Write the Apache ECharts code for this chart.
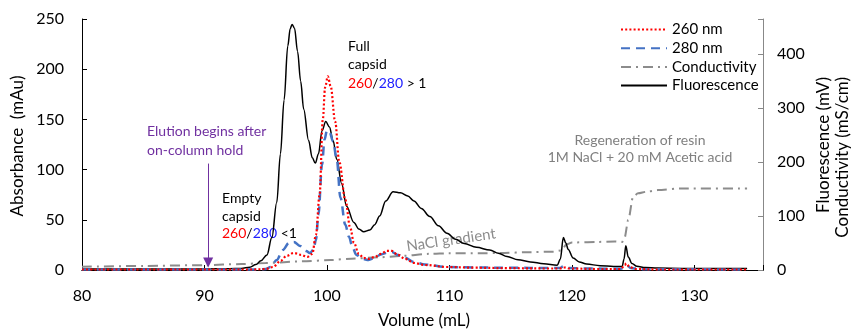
<!DOCTYPE html>
<html>
<head>
<meta charset="utf-8">
<script src="https://cdn.jsdelivr.net/npm/echarts@6/dist/echarts.min.js"></script>
<style>
  html, body { margin: 0; padding: 0; background: #fff; }
  #chart { width: 856px; height: 333px; }
</style>
</head>
<body>
<div id="chart"></div>
<script>
// volumes (mL) and values
var fluorVol = [80, 85, 90, 92, 93, 93.7, 94.2, 94.6, 95.1, 95.5, 95.9, 96.2, 96.5, 96.8, 97.0, 97.15, 97.35, 97.6, 97.85, 98.1, 98.5, 98.8, 99.05, 99.3, 99.6, 99.9, 100.2, 100.5, 100.8, 101.2, 101.6, 102.2, 102.6, 103.0, 103.5, 103.9, 104.3, 104.8, 105.4, 106, 106.6, 107.1, 107.7, 108.4, 109.1, 109.8, 110.5, 111.2, 112.2, 113.3, 114, 114.7, 115.6, 116.6, 117.7, 118.8, 119.05, 119.3, 119.5, 119.7, 120.1, 120.6, 121.2, 122.3, 123.4, 124.1, 124.25, 124.4, 124.6, 124.9, 125.3, 126, 127, 129, 134.3];
var fluorMv  = [2, 2, 2, 2.5, 3, 5, 10, 17, 28, 60, 125, 215, 315, 415, 447, 455, 448, 405, 350, 298, 240, 208, 198, 215, 258, 275, 265, 240, 205, 160, 118, 88, 76, 71, 74, 84, 100, 128, 145, 143, 137, 128, 114, 99, 82, 68, 57, 49, 42, 37, 31, 25, 19, 15, 11.5, 9, 20, 60, 50, 38, 22, 15, 11, 8, 6.5, 6.5, 20, 45, 24, 12, 7, 4.5, 3.5, 3, 3];

var condVol = [80, 85, 90, 93, 95, 98, 100.3, 102, 104.3, 106, 108.4, 110, 112.5, 114.2, 116.6, 118.5, 119.1, 119.6, 120, 122, 123.5, 124.1, 124.3, 124.6, 125.0, 125.4, 126.1, 127, 128.9, 134.3];
var condMs  = [6, 7.5, 9, 11, 13, 16, 18.5, 21, 23.5, 26, 30, 31, 31, 31.5, 33, 34, 36, 48, 51, 52, 53, 52, 60, 93, 136, 142, 145, 148, 151, 151];

var a260Vol = [80, 94, 95, 95.6, 96.2, 96.7, 97.3, 97.9, 98.4, 98.8, 99.1, 99.4, 99.66, 99.85, 100.07, 100.3, 100.67, 101.0, 101.5, 101.9, 102.2, 102.6, 103.0, 103.4, 103.9, 104.4, 104.9, 105.3, 105.8, 106.4, 107.1, 108, 109.8, 112, 115, 118, 119, 119.4, 119.8, 122, 124, 124.3, 124.45, 124.7, 125.2, 127, 134.3];
var a260Mau = [0.5, 0.5, 1, 3, 9, 14, 17, 15, 13, 16, 35, 75, 150, 182, 193, 183, 148, 108, 70, 42, 27, 16, 12, 11, 13, 16, 19, 19, 15, 11, 7, 5, 3, 2.3, 1.8, 1.5, 1.5, 2.5, 1.5, 1, 1, 5, 6.5, 3, 1, 0.5, 0.5];

var a280Vol = [80, 94.5, 95.0, 95.4, 95.9, 96.4, 96.9, 97.3, 97.8, 98.3, 98.6, 98.9, 99.1, 99.3, 99.6, 99.8, 100.0, 100.2, 100.5, 100.8, 101.1, 101.5, 101.8, 102.1, 102.4, 102.9, 103.4, 103.9, 104.4, 105.0, 105.3, 105.8, 106.4, 107.1, 108, 109.8, 112, 115, 118, 119.0, 119.3, 119.7, 121, 124, 124.35, 124.5, 124.8, 125.5, 134.3];
var a280Mau = [0.5, 0.5, 1, 3, 10, 20, 27, 28, 24, 19, 17, 20, 30, 55, 105, 130, 139, 138, 128, 110, 72, 45, 33, 22, 15, 11, 10, 12, 15.5, 17.5, 18, 15, 12, 8, 5.5, 3, 2.5, 2.2, 2, 2, 3.5, 2, 1.5, 1.2, 4, 4.5, 2, 0.8, 0.5];

var xTicks = [80, 90, 100, 110, 120, 130];
var leftTicks = [0, 50, 100, 150, 200, 250];
var rightTicks = [0, 100, 200, 300, 400];

var FONT = 'Lato';

function zip(xs, ys) {
    return xs.map(function (x, i) { return [x, ys[i]]; });
}

var chart = echarts.init(document.getElementById('chart'), null, {renderer: 'canvas'});

var option = {
    animation: false,
    textStyle: {fontFamily: FONT},
    grid: {left: 82, right: 93, top: 19, bottom: 63, show: false},
    legend: {
        orient: 'vertical',
        left: 620,
        top: 22,
        itemWidth: 46,
        itemHeight: 14,
        itemGap: 3.7,
        padding: 0,
        itemStyle: {opacity: 0},
        textStyle: {fontSize: 15, color: '#000', fontFamily: FONT},
        data: ['260 nm', '280 nm', 'Conductivity', 'Fluorescence']
    },
    xAxis: [{
        type: 'value',
        min: 80,
        max: 135.6,
        interval: 10,
        splitLine: {show: false},
        axisLine: {lineStyle: {color: '#000', width: 1}},
        axisTick: {inside: true, length: 5, lineStyle: {color: '#000'}},
        axisLabel: {
            fontSize: 16, color: '#000', margin: 18,
            formatter: function (v) { return xTicks.indexOf(v) >= 0 ? String(v) : ''; }
        }
    }, {
        type: 'value',
        position: 'top',
        min: 80,
        max: 135.6,
        axisLine: {show: true, lineStyle: {color: '#000', width: 1}},
        axisTick: {show: false},
        axisLabel: {show: false},
        splitLine: {show: false}
    }],
    yAxis: [{
        type: 'value',
        min: 0,
        max: 250,
        interval: 50,
        splitLine: {show: false},
        axisLine: {show: true, lineStyle: {color: '#000', width: 1}},
        axisTick: {show: true, inside: true, length: 5, lineStyle: {color: '#000'}},
        axisLabel: {
            fontSize: 16, color: '#000', margin: 18,
            formatter: function (v) { return leftTicks.indexOf(v) >= 0 ? String(v) : ''; }
        }
    }, {
        type: 'value',
        position: 'right',
        min: 0,
        max: 465,
        interval: 100,
        splitLine: {show: false},
        axisLine: {show: true, lineStyle: {color: '#888', width: 1}},
        axisTick: {show: true, inside: true, length: 5, lineStyle: {color: '#888'}},
        axisLabel: {
            fontSize: 16, color: '#000', margin: 14,
            formatter: function (v) { return rightTicks.indexOf(v) >= 0 ? String(v) : ''; }
        }
    }],
    series: [
        {
            name: 'Conductivity',
            type: 'line',
            yAxisIndex: 1,
            data: zip(condVol, condMs),
            showSymbol: false,
            symbol: 'none',
            smooth: 0.3,
            smoothMonotone: 'x',
            lineStyle: {color: '#8c8c8c', width: 2, type: [10, 5, 2, 5]},
            itemStyle: {color: '#8c8c8c'},
            z: 2
        },
        {
            name: 'Fluorescence',
            type: 'line',
            yAxisIndex: 1,
            data: zip(fluorVol, fluorMv),
            showSymbol: false,
            symbol: 'none',
            smooth: 0.35,
            smoothMonotone: 'x',
            lineStyle: {color: '#000', width: 1.5},
            itemStyle: {color: '#000'},
            z: 3
        },
        {
            name: '280 nm',
            type: 'line',
            yAxisIndex: 0,
            data: zip(a280Vol, a280Mau),
            showSymbol: false,
            symbol: 'none',
            smooth: 0.35,
            smoothMonotone: 'x',
            lineStyle: {color: '#4472c4', width: 2.5, type: [9, 6]},
            itemStyle: {color: '#4472c4'},
            z: 4,
            markLine: {
                silent: true,
                symbol: ['none', 'triangle'],
                symbolSize: [10, 10],
                label: {show: false},
                lineStyle: {color: '#7030a0', width: 1, type: 'solid'},
                data: [[{coord: [90.3, 106]}, {coord: [90.3, 7.5]}]]
            }
        },
        {
            name: '260 nm',
            type: 'line',
            yAxisIndex: 0,
            data: zip(a260Vol, a260Mau),
            showSymbol: false,
            symbol: 'none',
            smooth: 0.35,
            smoothMonotone: 'x',
            lineStyle: {color: '#ff0000', width: 2.2, type: [2, 2.2]},
            itemStyle: {color: '#ff0000'},
            z: 5
        }
    ],
    graphic: [
        {type: 'text', x: 18, y: 146, rotation: Math.PI / 2,
            style: {text: 'Absorbance  (mAu)', font: '17px ' + FONT, fill: '#000', align: 'center', verticalAlign: 'middle'}},
        {type: 'text', x: 824, y: 77, rotation: Math.PI / 2,
            style: {text: 'Fluorescence (mV)', font: '17px ' + FONT, fill: '#000', align: 'right', verticalAlign: 'middle'}},
        {type: 'text', x: 843, y: 77, rotation: Math.PI / 2,
            style: {text: 'Conductivity (mS/cm)', font: '17px ' + FONT, fill: '#000', align: 'right', verticalAlign: 'middle'}},
        {type: 'text', x: 424, y: 321,
            style: {text: 'Volume (mL)', font: '17px ' + FONT, fill: '#000', align: 'center', verticalAlign: 'middle'}},
        {type: 'text', x: 147, y: 122.5,
            style: {text: 'Elution begins after\non-column hold', font: '14px ' + FONT, fill: '#7030a0', lineHeight: 18.5, align: 'left', verticalAlign: 'top'}},
        {type: 'text', x: 222, y: 190,
            style: {
                text: 'Empty\ncapsid\n{r|260}/{b|280} <1', font: '14px ' + FONT, fill: '#000', lineHeight: 17.5,
                rich: {
                    r: {fill: '#ff0000', font: '14px ' + FONT, lineHeight: 17.5},
                    b: {fill: '#2020ff', font: '14px ' + FONT, lineHeight: 17.5}
                }
            }},
        {type: 'text', x: 348, y: 37,
            style: {
                text: 'Full\ncapsid\n{r|260}/{b|280} > 1', font: '14px ' + FONT, fill: '#000', lineHeight: 18.5,
                rich: {
                    r: {fill: '#ff0000', font: '14px ' + FONT, lineHeight: 18.5},
                    b: {fill: '#2020ff', font: '14px ' + FONT, lineHeight: 18.5}
                }
            }},
        {type: 'text', x: 451, y: 240, rotation: 0.145,
            style: {text: 'NaCl gradient', font: '15px ' + FONT, fill: '#8c8c8c', align: 'center', verticalAlign: 'middle'}},
        {type: 'text', x: 640, y: 148.5,
            style: {text: 'Regeneration of resin\n1M NaCl + 20 mM Acetic acid', font: '14px ' + FONT, fill: '#808080', lineHeight: 17, align: 'center', verticalAlign: 'middle'}}
    ]
};

chart.setOption(option);
</script>
</body>
</html>
